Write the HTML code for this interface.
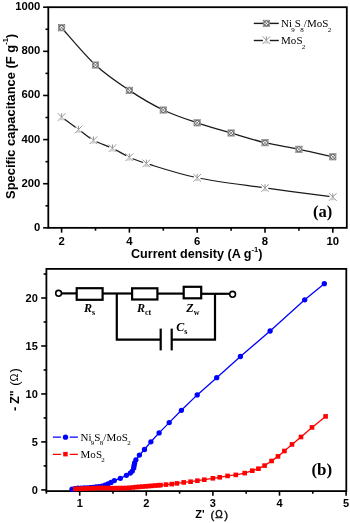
<!DOCTYPE html>
<html><head><meta charset="utf-8"><style>
html,body{margin:0;padding:0;background:#fff;width:350px;height:523px;overflow:hidden}
svg{display:block;will-change:transform}
</style></head><body>
<svg width="350" height="523" viewBox="0 0 350 523">
<rect width="350" height="523" fill="#fff"/>
<path d="M61.60,27.72 C67.25,33.94 84.20,54.57 95.50,65.01 C106.80,75.45 118.10,82.88 129.40,90.39 C140.70,97.89 152.00,104.62 163.30,110.02 C174.60,115.43 185.90,119.00 197.20,122.82 C208.50,126.65 219.80,129.66 231.10,132.97 C242.40,136.28 253.70,139.96 265.00,142.68 C276.30,145.40 287.60,146.94 298.90,149.30 C310.20,151.65 327.15,155.55 332.80,156.80" fill="none" stroke="#1a1a1a" stroke-width="1.25"/>
<path d="M61.60,117.08 C64.42,119.14 73.24,125.58 78.55,129.44 C83.86,133.30 87.82,137.13 93.47,140.25 C99.12,143.38 106.46,145.36 112.45,148.20 C118.44,151.03 123.75,154.70 129.40,157.24 C135.05,159.78 135.05,160.00 146.35,163.42 C157.65,166.84 177.42,173.68 197.20,177.76 C216.97,181.84 242.40,184.71 265.00,187.91 C287.60,191.11 321.50,195.45 332.80,196.96" fill="none" stroke="#1a1a1a" stroke-width="1.25"/>
<g fill="none"><rect x="58.45" y="24.57" width="6.30" height="6.30" fill="#fff" stroke="#8c8c8c" stroke-width="0.8"/><circle cx="61.60" cy="27.72" r="2.52" stroke="#404040" stroke-width="0.85"/><path d="M58.45,24.57 L64.75,30.87 M58.45,30.87 L64.75,24.57" stroke="#555" stroke-width="0.7"/></g>
<g fill="none"><rect x="92.35" y="61.86" width="6.30" height="6.30" fill="#fff" stroke="#8c8c8c" stroke-width="0.8"/><circle cx="95.50" cy="65.01" r="2.52" stroke="#404040" stroke-width="0.85"/><path d="M92.35,61.86 L98.65,68.16 M92.35,68.16 L98.65,61.86" stroke="#555" stroke-width="0.7"/></g>
<g fill="none"><rect x="126.25" y="87.24" width="6.30" height="6.30" fill="#fff" stroke="#8c8c8c" stroke-width="0.8"/><circle cx="129.40" cy="90.39" r="2.52" stroke="#404040" stroke-width="0.85"/><path d="M126.25,87.24 L132.55,93.54 M126.25,93.54 L132.55,87.24" stroke="#555" stroke-width="0.7"/></g>
<g fill="none"><rect x="160.15" y="106.87" width="6.30" height="6.30" fill="#fff" stroke="#8c8c8c" stroke-width="0.8"/><circle cx="163.30" cy="110.02" r="2.52" stroke="#404040" stroke-width="0.85"/><path d="M160.15,106.87 L166.45,113.17 M160.15,113.17 L166.45,106.87" stroke="#555" stroke-width="0.7"/></g>
<g fill="none"><rect x="194.05" y="119.67" width="6.30" height="6.30" fill="#fff" stroke="#8c8c8c" stroke-width="0.8"/><circle cx="197.20" cy="122.82" r="2.52" stroke="#404040" stroke-width="0.85"/><path d="M194.05,119.67 L200.35,125.97 M194.05,125.97 L200.35,119.67" stroke="#555" stroke-width="0.7"/></g>
<g fill="none"><rect x="227.95" y="129.82" width="6.30" height="6.30" fill="#fff" stroke="#8c8c8c" stroke-width="0.8"/><circle cx="231.10" cy="132.97" r="2.52" stroke="#404040" stroke-width="0.85"/><path d="M227.95,129.82 L234.25,136.12 M227.95,136.12 L234.25,129.82" stroke="#555" stroke-width="0.7"/></g>
<g fill="none"><rect x="261.85" y="139.53" width="6.30" height="6.30" fill="#fff" stroke="#8c8c8c" stroke-width="0.8"/><circle cx="265.00" cy="142.68" r="2.52" stroke="#404040" stroke-width="0.85"/><path d="M261.85,139.53 L268.15,145.83 M261.85,145.83 L268.15,139.53" stroke="#555" stroke-width="0.7"/></g>
<g fill="none"><rect x="295.75" y="146.15" width="6.30" height="6.30" fill="#fff" stroke="#8c8c8c" stroke-width="0.8"/><circle cx="298.90" cy="149.30" r="2.52" stroke="#404040" stroke-width="0.85"/><path d="M295.75,146.15 L302.05,152.45 M295.75,152.45 L302.05,146.15" stroke="#555" stroke-width="0.7"/></g>
<g fill="none"><rect x="329.65" y="153.65" width="6.30" height="6.30" fill="#fff" stroke="#8c8c8c" stroke-width="0.8"/><circle cx="332.80" cy="156.80" r="2.52" stroke="#404040" stroke-width="0.85"/><path d="M329.65,153.65 L335.95,159.95 M329.65,159.95 L335.95,153.65" stroke="#555" stroke-width="0.7"/></g>
<g fill="none"><circle cx="61.60" cy="117.08" r="3.42" fill="#fff" stroke="none"/><path d="M57.80,113.28 L65.40,120.88 M57.80,120.88 L65.40,113.28 M61.60,113.28 L61.60,118.22" stroke="#8a8a8a" stroke-width="0.9"/><path d="M61.60,117.08 L58.37,120.31 L64.83,120.31 Z" fill="#d0d0d0" stroke="none"/></g>
<g fill="none"><circle cx="78.55" cy="129.44" r="3.42" fill="#fff" stroke="none"/><path d="M74.75,125.64 L82.35,133.24 M74.75,133.24 L82.35,125.64 M78.55,125.64 L78.55,130.58" stroke="#8a8a8a" stroke-width="0.9"/><path d="M78.55,129.44 L75.32,132.67 L81.78,132.67 Z" fill="#d0d0d0" stroke="none"/></g>
<g fill="none"><circle cx="93.47" cy="140.25" r="3.42" fill="#fff" stroke="none"/><path d="M89.67,136.45 L97.27,144.05 M89.67,144.05 L97.27,136.45 M93.47,136.45 L93.47,141.39" stroke="#8a8a8a" stroke-width="0.9"/><path d="M93.47,140.25 L90.24,143.48 L96.70,143.48 Z" fill="#d0d0d0" stroke="none"/></g>
<g fill="none"><circle cx="112.45" cy="148.20" r="3.42" fill="#fff" stroke="none"/><path d="M108.65,144.40 L116.25,152.00 M108.65,152.00 L116.25,144.40 M112.45,144.40 L112.45,149.34" stroke="#8a8a8a" stroke-width="0.9"/><path d="M112.45,148.20 L109.22,151.43 L115.68,151.43 Z" fill="#d0d0d0" stroke="none"/></g>
<g fill="none"><circle cx="129.40" cy="157.24" r="3.42" fill="#fff" stroke="none"/><path d="M125.60,153.44 L133.20,161.04 M125.60,161.04 L133.20,153.44 M129.40,153.44 L129.40,158.38" stroke="#8a8a8a" stroke-width="0.9"/><path d="M129.40,157.24 L126.17,160.47 L132.63,160.47 Z" fill="#d0d0d0" stroke="none"/></g>
<g fill="none"><circle cx="146.35" cy="163.42" r="3.42" fill="#fff" stroke="none"/><path d="M142.55,159.62 L150.15,167.22 M142.55,167.22 L150.15,159.62 M146.35,159.62 L146.35,164.56" stroke="#8a8a8a" stroke-width="0.9"/><path d="M146.35,163.42 L143.12,166.65 L149.58,166.65 Z" fill="#d0d0d0" stroke="none"/></g>
<g fill="none"><circle cx="197.20" cy="177.76" r="3.42" fill="#fff" stroke="none"/><path d="M193.40,173.96 L201.00,181.56 M193.40,181.56 L201.00,173.96 M197.20,173.96 L197.20,178.90" stroke="#8a8a8a" stroke-width="0.9"/><path d="M197.20,177.76 L193.97,180.99 L200.43,180.99 Z" fill="#d0d0d0" stroke="none"/></g>
<g fill="none"><circle cx="265.00" cy="187.91" r="3.42" fill="#fff" stroke="none"/><path d="M261.20,184.11 L268.80,191.71 M261.20,191.71 L268.80,184.11 M265.00,184.11 L265.00,189.05" stroke="#8a8a8a" stroke-width="0.9"/><path d="M265.00,187.91 L261.77,191.14 L268.23,191.14 Z" fill="#d0d0d0" stroke="none"/></g>
<g fill="none"><circle cx="332.80" cy="196.96" r="3.42" fill="#fff" stroke="none"/><path d="M329.00,193.16 L336.60,200.76 M329.00,200.76 L336.60,193.16 M332.80,193.16 L332.80,198.10" stroke="#8a8a8a" stroke-width="0.9"/><path d="M332.80,196.96 L329.57,200.19 L336.03,200.19 Z" fill="#d0d0d0" stroke="none"/></g>
<rect x="48.30" y="7.20" width="298.50" height="220.65" fill="none" stroke="#000" stroke-width="1.8"/>
<line x1="43.10" y1="227.85" x2="48.30" y2="227.85" stroke="#000" stroke-width="1.6"/>
<line x1="45.50" y1="205.78" x2="48.30" y2="205.78" stroke="#000" stroke-width="1.6"/>
<line x1="43.10" y1="183.72" x2="48.30" y2="183.72" stroke="#000" stroke-width="1.6"/>
<line x1="45.50" y1="161.66" x2="48.30" y2="161.66" stroke="#000" stroke-width="1.6"/>
<line x1="43.10" y1="139.59" x2="48.30" y2="139.59" stroke="#000" stroke-width="1.6"/>
<line x1="45.50" y1="117.52" x2="48.30" y2="117.52" stroke="#000" stroke-width="1.6"/>
<line x1="43.10" y1="95.46" x2="48.30" y2="95.46" stroke="#000" stroke-width="1.6"/>
<line x1="45.50" y1="73.39" x2="48.30" y2="73.39" stroke="#000" stroke-width="1.6"/>
<line x1="43.10" y1="51.33" x2="48.30" y2="51.33" stroke="#000" stroke-width="1.6"/>
<line x1="45.50" y1="29.26" x2="48.30" y2="29.26" stroke="#000" stroke-width="1.6"/>
<line x1="43.10" y1="7.20" x2="48.30" y2="7.20" stroke="#000" stroke-width="1.6"/>
<line x1="61.60" y1="227.85" x2="61.60" y2="232.65" stroke="#000" stroke-width="1.6"/>
<line x1="95.50" y1="227.85" x2="95.50" y2="230.65" stroke="#000" stroke-width="1.6"/>
<line x1="129.40" y1="227.85" x2="129.40" y2="232.65" stroke="#000" stroke-width="1.6"/>
<line x1="163.30" y1="227.85" x2="163.30" y2="230.65" stroke="#000" stroke-width="1.6"/>
<line x1="197.20" y1="227.85" x2="197.20" y2="232.65" stroke="#000" stroke-width="1.6"/>
<line x1="231.10" y1="227.85" x2="231.10" y2="230.65" stroke="#000" stroke-width="1.6"/>
<line x1="265.00" y1="227.85" x2="265.00" y2="232.65" stroke="#000" stroke-width="1.6"/>
<line x1="298.90" y1="227.85" x2="298.90" y2="230.65" stroke="#000" stroke-width="1.6"/>
<line x1="332.80" y1="227.85" x2="332.80" y2="232.65" stroke="#000" stroke-width="1.6"/>
<text x="40.3" y="230.85" text-anchor="end" style="font-family:'Liberation Sans',sans-serif;font-weight:bold;font-size:11.3px">0</text>
<text x="40.3" y="186.72" text-anchor="end" style="font-family:'Liberation Sans',sans-serif;font-weight:bold;font-size:11.3px">200</text>
<text x="40.3" y="142.59" text-anchor="end" style="font-family:'Liberation Sans',sans-serif;font-weight:bold;font-size:11.3px">400</text>
<text x="40.3" y="98.46" text-anchor="end" style="font-family:'Liberation Sans',sans-serif;font-weight:bold;font-size:11.3px">600</text>
<text x="40.3" y="54.33" text-anchor="end" style="font-family:'Liberation Sans',sans-serif;font-weight:bold;font-size:11.3px">800</text>
<text x="40.3" y="10.20" text-anchor="end" style="font-family:'Liberation Sans',sans-serif;font-weight:bold;font-size:11.3px">1000</text>
<text x="61.60" y="244.5" text-anchor="middle" style="font-family:'Liberation Sans',sans-serif;font-weight:bold;font-size:11.3px">2</text>
<text x="129.40" y="244.5" text-anchor="middle" style="font-family:'Liberation Sans',sans-serif;font-weight:bold;font-size:11.3px">4</text>
<text x="197.20" y="244.5" text-anchor="middle" style="font-family:'Liberation Sans',sans-serif;font-weight:bold;font-size:11.3px">6</text>
<text x="265.00" y="244.5" text-anchor="middle" style="font-family:'Liberation Sans',sans-serif;font-weight:bold;font-size:11.3px">8</text>
<text x="332.80" y="244.5" text-anchor="middle" style="font-family:'Liberation Sans',sans-serif;font-weight:bold;font-size:11.3px">10</text>
<text x="196.7" y="257.8" text-anchor="middle" style="font-family:'Liberation Sans',sans-serif;font-weight:bold;font-size:12.6px">Current density (A g<tspan dy="-6" style="font-size:7.5px">-1</tspan><tspan dy="6">)</tspan></text>
<text transform="translate(14.8,116.4) rotate(-90)" x="0" y="0" text-anchor="middle" style="font-family:'Liberation Sans',sans-serif;font-weight:bold;font-size:12.9px">Specific capacitance (F g<tspan dy="-7" style="font-size:7.5px">-1</tspan><tspan dy="7">)</tspan></text>
<text x="313" y="217.2" style="font-family:'Liberation Serif',serif;font-weight:bold;font-size:16.5px">(a)</text>
<line x1="253.8" y1="23.4" x2="278.8" y2="23.4" stroke="#1a1a1a" stroke-width="1.4"/>
<g fill="none"><rect x="263.25" y="20.25" width="6.30" height="6.30" fill="#fff" stroke="#8c8c8c" stroke-width="0.8"/><circle cx="266.40" cy="23.40" r="2.52" stroke="#404040" stroke-width="0.85"/><path d="M263.25,20.25 L269.55,26.55 M263.25,26.55 L269.55,20.25" stroke="#555" stroke-width="0.7"/></g>
<line x1="253.8" y1="40.5" x2="278.8" y2="40.5" stroke="#1a1a1a" stroke-width="1.4"/>
<g fill="none"><circle cx="266.40" cy="40.20" r="3.42" fill="#fff" stroke="none"/><path d="M262.60,36.40 L270.20,44.00 M262.60,44.00 L270.20,36.40 M266.40,36.40 L266.40,41.34" stroke="#8a8a8a" stroke-width="0.9"/><path d="M266.40,40.20 L263.17,43.43 L269.63,43.43 Z" fill="#d0d0d0" stroke="none"/></g>
<text x="281" y="27.4" style="font-family:'Liberation Serif',serif;font-size:11px;letter-spacing:0.05px">Ni<tspan dx="-0.8" dy="4.5" style="font-size:7px">9</tspan><tspan dy="-4.5">S</tspan><tspan dx="-0.8" dy="4.5" style="font-size:7px">8</tspan><tspan dy="-4.5">/MoS</tspan><tspan dx="-0.8" dy="4.5" style="font-size:7px">2</tspan><tspan dy="-4.5"></tspan></text>
<text x="281" y="44.2" style="font-family:'Liberation Serif',serif;font-size:11px;letter-spacing:0.05px">MoS<tspan dx="-0.8" dy="4.5" style="font-size:7px">2</tspan><tspan dy="-4.5"></tspan></text>
<g stroke="#000" stroke-width="2.2" fill="none">
<line x1="61.5" y1="293.4" x2="76.7" y2="293.4"/>
<rect x="76.7" y="288.2" width="25.9" height="11.6"/>
<line x1="102.6" y1="293.5" x2="132.1" y2="293.5"/>
<rect x="132.1" y="288.3" width="25.3" height="11.2"/>
<line x1="157.4" y1="293.6" x2="183.7" y2="293.6"/>
<rect x="183.7" y="286.8" width="17.5" height="11.5"/>
<line x1="201.2" y1="293.8" x2="229.2" y2="293.8"/>
<polyline points="116.8,293.5 116.8,339.6 160.7,339.6"/>
<polyline points="215.0,293.8 215.0,339.6 171.7,339.6"/>
<line x1="160.7" y1="328.6" x2="160.7" y2="350.4"/>
<line x1="171.7" y1="328.6" x2="171.7" y2="350.4"/>
</g>
<circle cx="58.6" cy="293.3" r="2.9" fill="#fff" stroke="#000" stroke-width="1.6"/>
<circle cx="232.6" cy="294.3" r="2.9" fill="#fff" stroke="#000" stroke-width="1.6"/>
<text x="84" y="312.2" style="font-family:'Liberation Serif',serif;font-style:italic;font-weight:bold;font-size:12px">R<tspan dy="3" style="font-size:8px;font-style:normal">s</tspan></text>
<text x="137" y="312.2" style="font-family:'Liberation Serif',serif;font-style:italic;font-weight:bold;font-size:12px">R<tspan dy="3" style="font-size:8px;font-style:normal">ct</tspan></text>
<text x="186.3" y="312.2" style="font-family:'Liberation Serif',serif;font-style:italic;font-weight:bold;font-size:12px">Z<tspan dy="3" style="font-size:8px;font-style:normal">w</tspan></text>
<text x="176.2" y="331" style="font-family:'Liberation Serif',serif;font-style:italic;font-weight:bold;font-size:12px">C<tspan dy="3" style="font-size:8px;font-style:normal">s</tspan></text>
<rect x="46.40" y="268.90" width="299.90" height="222.20" fill="none" stroke="#000" stroke-width="1.8"/>
<line x1="41.20" y1="489.90" x2="46.40" y2="489.90" stroke="#000" stroke-width="1.6"/>
<line x1="43.60" y1="465.91" x2="46.40" y2="465.91" stroke="#000" stroke-width="1.6"/>
<line x1="41.20" y1="441.92" x2="46.40" y2="441.92" stroke="#000" stroke-width="1.6"/>
<line x1="43.60" y1="417.94" x2="46.40" y2="417.94" stroke="#000" stroke-width="1.6"/>
<line x1="41.20" y1="393.95" x2="46.40" y2="393.95" stroke="#000" stroke-width="1.6"/>
<line x1="43.60" y1="369.96" x2="46.40" y2="369.96" stroke="#000" stroke-width="1.6"/>
<line x1="41.20" y1="345.97" x2="46.40" y2="345.97" stroke="#000" stroke-width="1.6"/>
<line x1="43.60" y1="321.99" x2="46.40" y2="321.99" stroke="#000" stroke-width="1.6"/>
<line x1="41.20" y1="298.00" x2="46.40" y2="298.00" stroke="#000" stroke-width="1.6"/>
<line x1="43.60" y1="274.01" x2="46.40" y2="274.01" stroke="#000" stroke-width="1.6"/>
<line x1="46.40" y1="491.10" x2="46.40" y2="493.70" stroke="#000" stroke-width="1.6"/>
<line x1="79.70" y1="491.10" x2="79.70" y2="495.70" stroke="#000" stroke-width="1.6"/>
<line x1="113.00" y1="491.10" x2="113.00" y2="493.70" stroke="#000" stroke-width="1.6"/>
<line x1="146.30" y1="491.10" x2="146.30" y2="495.70" stroke="#000" stroke-width="1.6"/>
<line x1="179.60" y1="491.10" x2="179.60" y2="493.70" stroke="#000" stroke-width="1.6"/>
<line x1="212.90" y1="491.10" x2="212.90" y2="495.70" stroke="#000" stroke-width="1.6"/>
<line x1="246.20" y1="491.10" x2="246.20" y2="493.70" stroke="#000" stroke-width="1.6"/>
<line x1="279.50" y1="491.10" x2="279.50" y2="495.70" stroke="#000" stroke-width="1.6"/>
<line x1="312.80" y1="491.10" x2="312.80" y2="493.70" stroke="#000" stroke-width="1.6"/>
<line x1="346.10" y1="491.10" x2="346.10" y2="495.70" stroke="#000" stroke-width="1.6"/>
<text x="37.8" y="493.80" text-anchor="end" style="font-family:'Liberation Sans',sans-serif;font-weight:bold;font-size:11px">0</text>
<text x="37.8" y="445.82" text-anchor="end" style="font-family:'Liberation Sans',sans-serif;font-weight:bold;font-size:11px">5</text>
<text x="37.8" y="397.85" text-anchor="end" style="font-family:'Liberation Sans',sans-serif;font-weight:bold;font-size:11px">10</text>
<text x="37.8" y="349.87" text-anchor="end" style="font-family:'Liberation Sans',sans-serif;font-weight:bold;font-size:11px">15</text>
<text x="37.8" y="301.90" text-anchor="end" style="font-family:'Liberation Sans',sans-serif;font-weight:bold;font-size:11px">20</text>
<text x="79.70" y="506.9" text-anchor="middle" style="font-family:'Liberation Sans',sans-serif;font-weight:bold;font-size:11px">1</text>
<text x="146.30" y="506.9" text-anchor="middle" style="font-family:'Liberation Sans',sans-serif;font-weight:bold;font-size:11px">2</text>
<text x="212.90" y="506.9" text-anchor="middle" style="font-family:'Liberation Sans',sans-serif;font-weight:bold;font-size:11px">3</text>
<text x="279.50" y="506.9" text-anchor="middle" style="font-family:'Liberation Sans',sans-serif;font-weight:bold;font-size:11px">4</text>
<text x="346.10" y="506.9" text-anchor="middle" style="font-family:'Liberation Sans',sans-serif;font-weight:bold;font-size:11px">5</text>
<text x="195.3" y="518.3" style="font-family:'Liberation Sans',sans-serif;font-weight:bold;font-size:11px">Z'</text>
<text x="210.5" y="518.6" style="font-family:'Liberation Sans',sans-serif;font-size:11.5px;stroke:#000;stroke-width:0.35px">(</text>
<text x="215.2" y="518.3" style="font-family:'Liberation Sans',sans-serif;font-size:10px;stroke:#000;stroke-width:0.35px">&#937;</text>
<text x="224.2" y="518.6" style="font-family:'Liberation Sans',sans-serif;font-size:11.5px;stroke:#000;stroke-width:0.35px">)</text>
<g transform="translate(19.1,410) rotate(-90)">
<text x="-1" y="0" style="font-family:'Liberation Sans',sans-serif;font-weight:bold;font-size:12.5px">-</text>
<text x="6.2" y="0" style="font-family:'Liberation Sans',sans-serif;font-weight:bold;font-size:12.5px">Z&quot;</text>
<text x="24.2" y="0" style="font-family:'Liberation Sans',sans-serif;font-size:13px">(</text>
<text x="28.6" y="-1.4" style="font-family:'Liberation Sans',sans-serif;font-size:10.5px">&#937;</text>
<text x="37.4" y="0" style="font-family:'Liberation Sans',sans-serif;font-size:13px">)</text>
</g>
<text x="311.4" y="475.2" style="font-family:'Liberation Serif',serif;font-weight:bold;font-size:17px">(b)</text>
<polyline points="72.00,489.20 77.40,488.30 88.90,487.70 100.30,486.60 106.00,484.90 111.00,482.40 114.30,480.60 120.30,478.30 126.40,475.30 130.30,473.10 132.30,471.10 133.70,468.00 134.10,465.40 134.60,462.90 135.90,459.80 139.40,455.10 144.50,449.50 150.90,441.80 159.10,432.90 169.20,422.60 181.40,410.30 197.20,394.90 216.70,377.70 240.40,356.50 270.10,331.00 304.70,299.80 324.30,283.70" fill="none" stroke="#0000ff" stroke-width="1.3"/>
<circle cx="72.00" cy="489.20" r="2.65" fill="#0000ff"/>
<circle cx="75.00" cy="488.70" r="2.65" fill="#0000ff"/>
<circle cx="78.00" cy="488.27" r="2.65" fill="#0000ff"/>
<circle cx="81.00" cy="488.11" r="2.65" fill="#0000ff"/>
<circle cx="84.00" cy="487.96" r="2.65" fill="#0000ff"/>
<circle cx="87.00" cy="487.80" r="2.65" fill="#0000ff"/>
<circle cx="90.00" cy="487.59" r="2.65" fill="#0000ff"/>
<circle cx="93.00" cy="487.30" r="2.65" fill="#0000ff"/>
<circle cx="96.00" cy="487.01" r="2.65" fill="#0000ff"/>
<circle cx="99.00" cy="486.73" r="2.65" fill="#0000ff"/>
<circle cx="102.00" cy="486.09" r="2.65" fill="#0000ff"/>
<circle cx="105.00" cy="485.20" r="2.65" fill="#0000ff"/>
<circle cx="108.00" cy="483.90" r="2.65" fill="#0000ff"/>
<circle cx="111.00" cy="482.40" r="2.65" fill="#0000ff"/>
<circle cx="114.30" cy="480.60" r="2.65" fill="#0000ff"/>
<circle cx="120.30" cy="478.30" r="2.65" fill="#0000ff"/>
<circle cx="126.40" cy="475.30" r="2.65" fill="#0000ff"/>
<circle cx="130.30" cy="473.10" r="2.65" fill="#0000ff"/>
<circle cx="132.30" cy="471.10" r="2.65" fill="#0000ff"/>
<circle cx="133.70" cy="468.00" r="2.65" fill="#0000ff"/>
<circle cx="134.10" cy="465.40" r="2.65" fill="#0000ff"/>
<circle cx="134.60" cy="462.90" r="2.65" fill="#0000ff"/>
<circle cx="135.90" cy="459.80" r="2.65" fill="#0000ff"/>
<circle cx="139.40" cy="455.10" r="2.65" fill="#0000ff"/>
<circle cx="144.50" cy="449.50" r="2.65" fill="#0000ff"/>
<circle cx="150.90" cy="441.80" r="2.65" fill="#0000ff"/>
<circle cx="159.10" cy="432.90" r="2.65" fill="#0000ff"/>
<circle cx="169.20" cy="422.60" r="2.65" fill="#0000ff"/>
<circle cx="181.40" cy="410.30" r="2.65" fill="#0000ff"/>
<circle cx="197.20" cy="394.90" r="2.65" fill="#0000ff"/>
<circle cx="216.70" cy="377.70" r="2.65" fill="#0000ff"/>
<circle cx="240.40" cy="356.50" r="2.65" fill="#0000ff"/>
<circle cx="270.10" cy="331.00" r="2.65" fill="#0000ff"/>
<circle cx="304.70" cy="299.80" r="2.65" fill="#0000ff"/>
<circle cx="324.30" cy="283.70" r="2.65" fill="#0000ff"/>
<polyline points="75.20,488.90 88.90,488.40 100.00,487.90 114.00,488.20 128.00,488.00 136.00,487.10 150.00,486.00 160.50,485.10 166.00,484.60 171.70,484.10 176.90,483.40 183.70,482.40 190.60,481.70 197.40,480.70 204.30,479.70 212.90,478.30 219.70,477.30 227.60,475.90 235.80,474.90 244.70,473.10 252.30,470.70 258.40,468.70 264.60,465.60 271.60,461.00 278.00,456.40 284.40,451.00 292.00,444.40 301.00,437.00 312.00,427.40 325.60,416.40" fill="none" stroke="#ff0000" stroke-width="1.3"/>
<rect x="72.90" y="486.60" width="4.6" height="4.6" fill="#ff0000"/>
<rect x="76.10" y="486.48" width="4.6" height="4.6" fill="#ff0000"/>
<rect x="79.30" y="486.37" width="4.6" height="4.6" fill="#ff0000"/>
<rect x="82.50" y="486.25" width="4.6" height="4.6" fill="#ff0000"/>
<rect x="85.70" y="486.13" width="4.6" height="4.6" fill="#ff0000"/>
<rect x="88.90" y="486.00" width="4.6" height="4.6" fill="#ff0000"/>
<rect x="92.10" y="485.85" width="4.6" height="4.6" fill="#ff0000"/>
<rect x="95.30" y="485.71" width="4.6" height="4.6" fill="#ff0000"/>
<rect x="98.50" y="485.62" width="4.6" height="4.6" fill="#ff0000"/>
<rect x="101.70" y="485.69" width="4.6" height="4.6" fill="#ff0000"/>
<rect x="104.90" y="485.75" width="4.6" height="4.6" fill="#ff0000"/>
<rect x="108.10" y="485.82" width="4.6" height="4.6" fill="#ff0000"/>
<rect x="111.30" y="485.89" width="4.6" height="4.6" fill="#ff0000"/>
<rect x="114.50" y="485.86" width="4.6" height="4.6" fill="#ff0000"/>
<rect x="117.70" y="485.81" width="4.6" height="4.6" fill="#ff0000"/>
<rect x="120.90" y="485.77" width="4.6" height="4.6" fill="#ff0000"/>
<rect x="124.10" y="485.72" width="4.6" height="4.6" fill="#ff0000"/>
<rect x="127.30" y="485.52" width="4.6" height="4.6" fill="#ff0000"/>
<rect x="130.50" y="485.16" width="4.6" height="4.6" fill="#ff0000"/>
<rect x="133.70" y="484.80" width="4.6" height="4.6" fill="#ff0000"/>
<rect x="136.90" y="484.55" width="4.6" height="4.6" fill="#ff0000"/>
<rect x="140.10" y="484.30" width="4.6" height="4.6" fill="#ff0000"/>
<rect x="143.30" y="484.05" width="4.6" height="4.6" fill="#ff0000"/>
<rect x="146.50" y="483.79" width="4.6" height="4.6" fill="#ff0000"/>
<rect x="149.70" y="483.53" width="4.6" height="4.6" fill="#ff0000"/>
<rect x="152.90" y="483.25" width="4.6" height="4.6" fill="#ff0000"/>
<rect x="156.10" y="482.98" width="4.6" height="4.6" fill="#ff0000"/>
<rect x="158.20" y="482.80" width="4.6" height="4.6" fill="#ff0000"/>
<rect x="163.70" y="482.30" width="4.6" height="4.6" fill="#ff0000"/>
<rect x="169.40" y="481.80" width="4.6" height="4.6" fill="#ff0000"/>
<rect x="174.60" y="481.10" width="4.6" height="4.6" fill="#ff0000"/>
<rect x="181.40" y="480.10" width="4.6" height="4.6" fill="#ff0000"/>
<rect x="188.30" y="479.40" width="4.6" height="4.6" fill="#ff0000"/>
<rect x="195.10" y="478.40" width="4.6" height="4.6" fill="#ff0000"/>
<rect x="202.00" y="477.40" width="4.6" height="4.6" fill="#ff0000"/>
<rect x="210.60" y="476.00" width="4.6" height="4.6" fill="#ff0000"/>
<rect x="217.40" y="475.00" width="4.6" height="4.6" fill="#ff0000"/>
<rect x="225.30" y="473.60" width="4.6" height="4.6" fill="#ff0000"/>
<rect x="233.50" y="472.60" width="4.6" height="4.6" fill="#ff0000"/>
<rect x="242.40" y="470.80" width="4.6" height="4.6" fill="#ff0000"/>
<rect x="250.00" y="468.40" width="4.6" height="4.6" fill="#ff0000"/>
<rect x="256.10" y="466.40" width="4.6" height="4.6" fill="#ff0000"/>
<rect x="262.30" y="463.30" width="4.6" height="4.6" fill="#ff0000"/>
<rect x="269.30" y="458.70" width="4.6" height="4.6" fill="#ff0000"/>
<rect x="275.70" y="454.10" width="4.6" height="4.6" fill="#ff0000"/>
<rect x="282.10" y="448.70" width="4.6" height="4.6" fill="#ff0000"/>
<rect x="289.70" y="442.10" width="4.6" height="4.6" fill="#ff0000"/>
<rect x="298.70" y="434.70" width="4.6" height="4.6" fill="#ff0000"/>
<rect x="309.70" y="425.10" width="4.6" height="4.6" fill="#ff0000"/>
<rect x="323.30" y="414.10" width="4.6" height="4.6" fill="#ff0000"/>
<path d="M52.9,437.2 H60.9 M69.7,437.2 H77.9" stroke="#0000ff" stroke-width="1.2"/>
<circle cx="65.5" cy="437.2" r="2.65" fill="#0000ff"/>
<path d="M52.9,454.4 H60.9 M69.7,454.4 H77.9" stroke="#ff0000" stroke-width="1.2"/>
<rect x="63.2" y="451.9" width="4.5" height="4.5" fill="#ff0000"/>
<text x="80.5" y="440.8" style="font-family:'Liberation Serif',serif;font-size:11px;letter-spacing:0.05px">Ni<tspan dx="-0.8" dy="4.5" style="font-size:7px">9</tspan><tspan dy="-4.5">S</tspan><tspan dx="-0.8" dy="4.5" style="font-size:7px">8</tspan><tspan dy="-4.5">/MoS</tspan><tspan dx="-0.8" dy="4.5" style="font-size:7px">2</tspan><tspan dy="-4.5"></tspan></text>
<text x="80.5" y="457.9" style="font-family:'Liberation Serif',serif;font-size:11px;letter-spacing:0.05px">MoS<tspan dx="-0.8" dy="4.5" style="font-size:7px">2</tspan><tspan dy="-4.5"></tspan></text>
</svg>
</body></html>
